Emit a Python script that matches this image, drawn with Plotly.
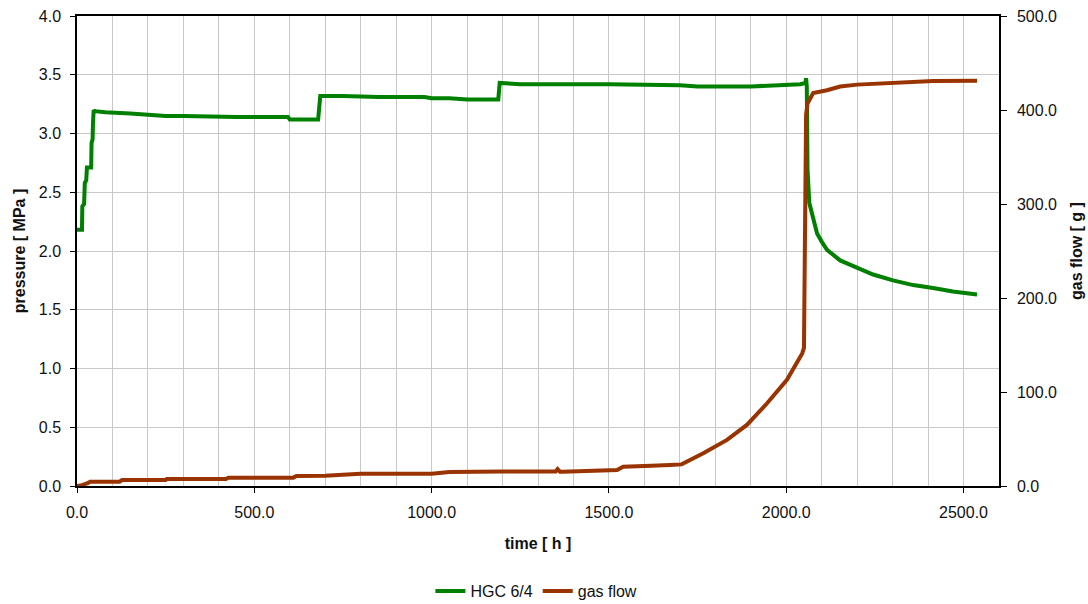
import plotly.graph_objects as go

# ---- data ----
time_p = [0, 14, 15, 20, 22, 26, 28, 40, 41, 44, 45, 47, 50, 80, 150, 250, 300, 400, 450, 595,
          600, 680, 684, 686, 750, 850, 980, 1000, 1050, 1100, 1188, 1192, 1250, 1300, 1500,
          1700, 1750, 1900, 2000, 2040, 2054, 2056, 2058, 2060, 2065, 2075, 2087, 2100, 2115,
          2152, 2200, 2245, 2301, 2358, 2414, 2470, 2538]
pressure = [2.18, 2.18, 2.38, 2.40, 2.58, 2.60, 2.71, 2.71, 2.92, 2.95, 3.08, 3.20, 3.19, 3.18,
            3.17, 3.15, 3.15, 3.14, 3.14, 3.14, 3.12, 3.12, 3.31, 3.32, 3.32, 3.31, 3.31, 3.30,
            3.30, 3.29, 3.29, 3.43, 3.42, 3.42, 3.42, 3.41, 3.40, 3.40, 3.41, 3.42, 3.43, 3.47,
            3.40, 2.70, 2.41, 2.28, 2.15, 2.08, 2.01, 1.92, 1.855, 1.80, 1.75, 1.71, 1.685,
            1.655, 1.63]

time_g = [0, 10, 30, 37, 120, 127, 250, 253, 420, 427, 610, 619, 700, 760, 800, 1000, 1050,
          1200, 1350, 1355, 1362, 1370, 1500, 1523, 1540, 1600, 1620, 1672, 1705, 1766, 1833,
          1889, 1946, 2002, 2030, 2045, 2050, 2053, 2056, 2060, 2076, 2115, 2152, 2200, 2265,
          2330, 2414, 2538]
gas_flow = [0, 0.5, 3, 4.6, 4.6, 6.4, 6.4, 7.4, 7.4, 8.9, 8.9, 10.6, 11, 12, 13, 13, 15, 15.5,
            15.5, 18, 15.2, 15.2, 16, 17, 20.5, 20.5, 21.5, 22.3, 23, 34.8, 49, 65, 88, 113,
            130, 141, 147, 250, 395, 407, 418, 421, 425, 427, 428.4, 429.5, 430.9, 431.2]

series_names = ["HGC 6/4", "gas flow"]
x_title = "time [ h ]"
y_title = "pressure [ MPa ]"
y2_title = "gas flow [ g ]"

FONT = "Liberation Sans, Arial, sans-serif"
GREEN = "#008000"
BROWN = "#993300"
GRID = "#c8c8c8"

fig = go.Figure()
fig.add_trace(go.Scatter(x=time_p, y=pressure, mode="lines", name=series_names[0],
                         line=dict(color=GREEN, width=4)))
fig.add_trace(go.Scatter(x=time_g, y=gas_flow, mode="lines", name=series_names[1],
                         yaxis="y2", line=dict(color=BROWN, width=4)))

fig.update_layout(
    width=1088, height=604,
    margin=dict(l=77, r=89, t=16, b=118, autoexpand=False),
    paper_bgcolor="white", plot_bgcolor="white",
    font=dict(family=FONT, size=16, color="#111111"),
    showlegend=True,
    legend=dict(orientation="h", x=0.493, xanchor="center", xref="container",
                y=13 / 604, yanchor="middle", yref="container",
                font=dict(size=16), tracegroupgap=0, itemwidth=30),
    xaxis=dict(range=[0, 2600], dtick=500, tick0=0, tickformat=".1f",
               showgrid=True, gridcolor=GRID, gridwidth=1,
               minor=dict(dtick=100, showgrid=True, gridcolor=GRID, gridwidth=1),
               showline=True, linecolor="black", linewidth=1.5, mirror=True,
               ticks="outside", ticklen=5, tickcolor="black", zeroline=False,
               automargin=False, ticklabelstandoff=6,
               title=dict(text="<b>" + x_title + "</b>", standoff=18, font=dict(size=16))),
    yaxis=dict(range=[0, 4.0], dtick=0.5, tick0=0, tickformat=".1f",
               showgrid=True, gridcolor=GRID, gridwidth=1,
               showline=True, linecolor="black", linewidth=1.5, mirror=True,
               ticks="outside", ticklen=5, tickcolor="black", zeroline=False,
               automargin=False, ticklabelstandoff=6,
               title=dict(text="<b>" + y_title + "</b>", standoff=9, font=dict(size=16))),
    yaxis2=dict(range=[0, 500], dtick=100, tick0=0, tickformat=".1f", overlaying="y",
                side="right", showgrid=False, showline=True, linecolor="black", linewidth=1.5,
                ticks="outside", ticklen=6, tickcolor="black", zeroline=False,
                automargin=False, ticklabelstandoff=7,
                title=dict(text="<b>" + y2_title + "</b>", standoff=15, font=dict(size=16))),
)

fig.write_html("out.html")
